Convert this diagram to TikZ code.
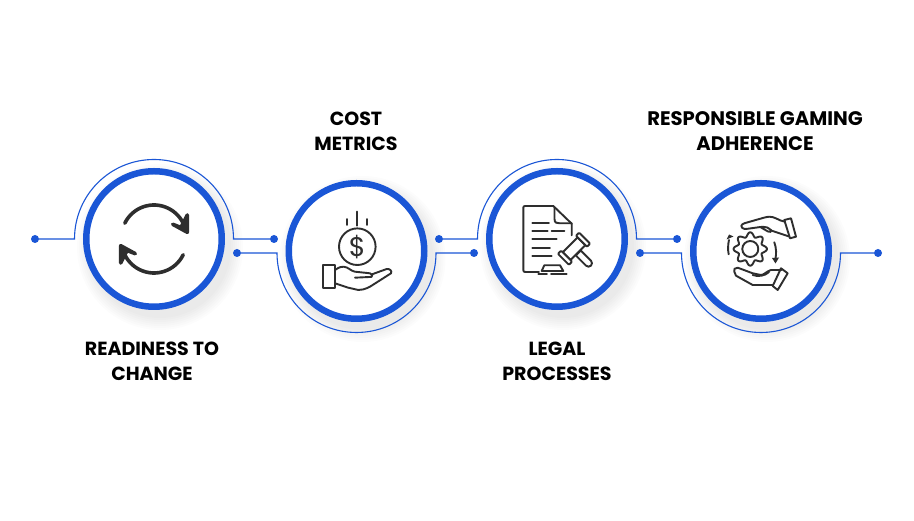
\documentclass[tikz,border=0pt]{standalone}
\usepackage{fontspec}
\setmainfont{Poppins}
\definecolor{ringblue}{HTML}{1A56D6}
\definecolor{icondark}{HTML}{2E2E2E}
\tikzset{
    ring/.style={circle,draw=ringblue,line width=6.5pt,fill=white,minimum size=135.5pt,inner sep=0pt},
    dot/.style={circle,fill=ringblue,inner sep=0pt,minimum size=8pt},
    wire/.style={draw=ringblue,line width=1.1pt},
    caption/.style={align=center,font=\fontsize{19}{25}\selectfont\bfseries,text=black},
    icon/.style={draw=icondark,line width=1.9pt,line cap=round,line join=round},
}
\begin{document}
\begin{tikzpicture}[x=1pt,y=1pt]
        \useasboundingbox (0,0) rectangle (914,521);
        \fill[white] (0,0) rectangle (914,521);

        % soft shadows
        \foreach \cx/\cy in {154/282, 356.5/270, 557/282, 761/270} {
            \foreach \r in {71,73,...,83} {
                \fill[black,opacity=0.011] (\cx+6,\cy-8) circle (\r);
            }
        }

        % dots and wires
        \node (d1) at (35,282)[dot]{};
        \node (d2) at (274,282)[dot]{};
        \node (d3) at (237,268)[dot]{};
        \node (d4) at (439,282)[dot]{};
        \node (d5) at (474,268)[dot]{};
        \node (d6) at (677,282)[dot]{};
        \node (d7) at (640,268)[dot]{};
        \node (d8) at (878,268)[dot]{};
        \coordinate (a1) at (74.5,282);
        \coordinate (a2) at (277,268);
        \coordinate (a3) at (477.5,282);
        \coordinate (a4) at (681.5,268);
        \draw[wire] (d1) -- (a1) arc (180:0:79.5) -- (d2);
        \draw[wire] (d3) -- (a2) arc (180:360:79.5) -- (d5);
        \draw[wire] (d4) -- (a3) arc (180:0:79.5) -- (d6);
        \draw[wire] (d7) -- (a4) arc (180:360:79.5) -- (d8);

        % rings
        \node (c1) at (154,282)[ring]{};
        \node (c2) at (356.5,270)[ring]{};
        \node (c3) at (557,282)[ring]{};
        \node (c4) at (761,270)[ring]{};

        % captions
        \node (t1) at (152,160)[caption]{READINESS TO\\CHANGE};
        \node (t2) at (356,390)[caption]{COST\\METRICS};
        \node (t3) at (557,160)[caption]{LEGAL\\PROCESSES};
        \node (t4) at (755,390)[caption,font=\fontsize{19.6}{25}\selectfont\bfseries]{RESPONSIBLE GAMING\\ADHERENCE};

        % refresh icon
        \begin{scope}[shift={(c1)}]
            \foreach \a in {0,180} {
                \begin{scope}[rotate=\a]
                    \draw[icon,line width=3.6pt] (0,1.5) ++(154:32.5) arc (154:20:32.5);
                    \draw[icon,line width=3.6pt,fill=icondark] (33.3,24) -- (33.3,6.7) -- (18.7,14.7) -- (27,11.5) -- cycle;
                \end{scope}
            }
        \end{scope}

        % coin and hand icon
        \begin{scope}[shift={(c2)}]
            \draw[icon] (0.8,4.3) circle (18.3);
            \node (dollar) at (0.8,4.3)[text=icondark,font=\fontsize{27}{27}\selectfont]{\$};
            \draw[icon] (0.8,39.3) -- (0.8,25.3) (-9.2,32) -- (-9.2,26) (10.2,32) -- (10.2,26);
            \draw[icon] (-33.2,-14) rectangle (-21.5,-37.3);
            \draw[icon] (-21.5,-19) .. controls (-17,-16) and (-15,-15.5) .. (-13,-15.7)
                .. controls (-8,-16) and (-6,-20) .. (-1.5,-20.7) -- (13.5,-22.3)
                .. controls (16,-23) and (16.5,-25.5) .. (15,-25.9) -- (-1.5,-26.7);
            \draw[icon] (15,-23.5) -- (30.2,-18) .. controls (33,-17.5) and (36,-20) .. (34.5,-22.3)
                -- (13.5,-35.7) .. controls (8,-38.5) and (5,-39) .. (1.8,-39)
                -- (-8.2,-36.7) -- (-21.5,-32.3);
        \end{scope}

        % document and gavel icon
        \begin{scope}[shift={(c3)}]
            \draw[icon] (14.7,15.3) -- (-3.7,33) -- (-30,33) .. controls (-33.7,33) .. (-33.7,29.5)
                -- (-33.7,-29) .. controls (-33.7,-33) .. (-30,-33) -- (-18,-33);
            \draw[icon] (-2.5,32) -- (-2.5,20) .. controls (-2.5,16) and (0,15.5) .. (3,15.7) -- (14.7,15.7) -- (14.7,3.7);
            \draw[icon] (-24.7,16.3) -- (-8,16.3);
            \draw[icon] (-24.7,8) -- (-9.3,8) (-5.3,8) -- (7.3,8);
            \draw[icon] (-24.7,-0.3) -- (-0.3,-0.3);
            \draw[icon] (-24.7,-8.7) -- (-7,-8.7);
            \draw[icon] (-24.7,-17) -- (-5.3,-17);
            \draw[icon] (-18.7,-34.7) -- (-10,-34.7) (-6,-34.7) -- (9.7,-34.7);
            \draw[icon] (-15.3,-32) -- (-12.7,-26.3) -- (3,-26.3) -- (6.3,-32) -- cycle;
            \begin{scope}[shift={(17,-9.7)},rotate=-45]
                \draw[icon,fill=white] (6,-3.5) -- (20.5,-3.5) arc (-90:90:3.5) -- (6,3.5) -- cycle;
                \draw[icon,fill=white] (-5.5,-10.5) rectangle (5.5,10.5);
                \draw[icon,fill=white,rounded corners=1pt] (-7.8,-15) rectangle (7.8,-10.5);
                \draw[icon,fill=white,rounded corners=1pt] (-7.8,10.5) rectangle (7.8,15);
            \end{scope}
        \end{scope}

        % hands and gear icon
        \begin{scope}[shift={(c4)}]
            \draw[icon,fill=white,smooth] plot[domain=0:360,samples=145] ({-10.7+(14.5+2.2*cos(8*\x))*cos(\x)},{2+(14.5+2.2*cos(8*\x))*sin(\x)}) -- cycle;
            \draw[icon] (-10.7,2) circle (8);
            \draw[icon] (-32.3,-3.3) .. controls (-33.3,1) and (-33,7) .. (-32,11);
            \draw[icon] (13.3,8.7) .. controls (15.5,3) and (15.5,-4) .. (14.3,-8);
            \fill[icondark] (-34.5,11.5) -- (-27.5,14.5) -- (-32,16.5) -- cycle;
            \fill[icondark] (11,-7) -- (18,-6.5) -- (14.5,-12.5) -- cycle;
            % upper hand
            \draw[icon] (23.3,31) -- (30,32.7) -- (35,14.3) -- (29,12.7) -- cycle;
            \draw[icon] (24,29.3) .. controls (18,30) and (14,34.5) .. (8.3,34.3)
                .. controls (4,34) and (-1,32) .. (-1.7,32) -- (-16.7,27.7)
                .. controls (-20,26.5) and (-20.5,24) .. (-19,23.3)
                .. controls (-17.5,22) and (-16,22) .. (-15,22) -- (1.7,24.3)
                .. controls (5,24.5) and (8,23) .. (10,21) .. controls (11,19.5) and (9,18) .. (7,19.5) -- (0,23.5);
            \draw[icon] (10,20.5) -- (28,14.5);
            % lower hand
            \draw[icon] (20,-17.3) -- (26.7,-22.3) -- (16.7,-39) -- (11.7,-35) -- cycle;
            \draw[icon] (20.5,-19) -- (10,-19) .. controls (6,-20) and (3,-24) .. (0,-24)
                -- (-8.3,-22.3) -- (-23.3,-16.7) .. controls (-26,-16) and (-28,-19) .. (-26.7,-20.7)
                .. controls (-26,-23) .. (-25,-24.7) -- (-8.3,-34) -- (5,-34) -- (11.7,-34);
            \draw[icon] (-8.3,-24) .. controls (-3,-26) and (4,-25) .. (8,-21);
        \end{scope}
    \end{tikzpicture}
\end{document}
